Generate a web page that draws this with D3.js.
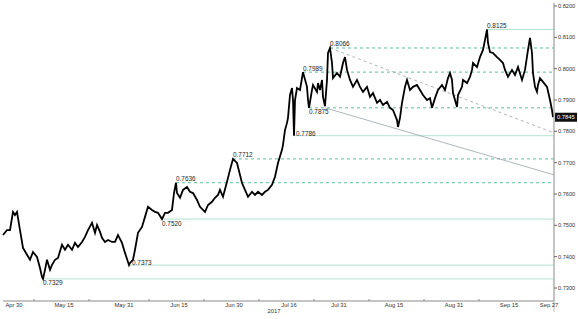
<!DOCTYPE html>
<html>
<head>
<meta charset="utf-8">
<script src="https://cdn.jsdelivr.net/npm/d3@7"></script>
<style>
  html, body { margin: 0; padding: 0; background: #fff; }
  svg { display: block; font-family: "Liberation Sans", Arial, sans-serif; }
</style>
</head>
<body>
<div id="chart"></div>
<script>
// ─── DATA ────────────────────────────────────────────────────────────────────
// x = trading-day index counted from 1 May 2017 (weekends skipped)
const days = [
  -2.2, -1.4, -0.8, -0.2, 0.2, 0.6, 1.2, 1.8, 2.6, 3.2, 3.8, 4.6, 5.2, 5.6, 5.8,
  6.2, 6.6, 7.2, 7.6, 8.2, 8.8, 9.6, 10.2, 10.8, 11.6, 12.2, 12.8, 13.6, 14.2,
  14.8, 15.6, 16.2, 16.6, 17.2, 17.6, 18.2, 18.8, 19.6, 20.2, 20.8, 21.6, 22.2,
  22.8, 23.0, 23.2, 23.8, 24.2, 24.8, 25.6, 26.2, 26.8, 27.6, 28.2, 28.8, 29.6,
  30.2, 30.8, 31.6, 32.0, 32.4, 32.6, 33.2, 33.8, 34.6, 35.2, 35.8, 36.6, 37.2,
  37.8, 38.2, 38.8, 39.6, 40.2, 40.8, 41.2, 41.8, 42.6, 43.2, 43.8, 44.6, 44.8,
  45.6, 46.2, 46.8, 47.6, 48.2, 48.8, 49.6, 50.2, 50.8, 51.6, 52.2, 52.8, 53.6,
  53.8, 54.2, 54.6, 54.8, 55.2, 55.6, 55.8, 56.0, 56.2, 56.6, 57.2, 57.8, 58.6,
  58.8, 59.0, 59.6, 59.8, 60.6, 60.8, 61.2, 61.6, 61.8, 62.2, 62.6, 62.8, 63.2,
  63.6, 63.8, 64.6, 65.2, 65.8, 66.2, 66.6, 67.2, 67.8, 68.6, 69.2, 69.8, 70.6,
  71.2, 71.8, 72.6, 73.2, 73.8, 74.6, 75.2, 75.8, 76.6, 76.8, 77.2, 77.6, 78.2,
  78.6, 79.2, 79.8, 80.6, 81.2, 81.8, 82.6, 83.2, 83.6, 84.2, 84.8, 85.6, 86.2,
  86.8, 87.2, 87.6, 87.8, 88.2, 88.6, 88.8, 89.6, 89.8, 90.6, 91.2, 91.6, 91.8,
  92.6, 93.2, 93.8, 94.2, 94.6, 94.8, 95.2, 95.8, 96.6, 97.2, 97.8, 98.2, 98.8,
  99.6, 100.2, 100.8, 101.6, 102.2, 102.8, 103.2, 103.6, 103.8, 104.2, 104.6,
  104.8, 105.2, 105.8, 106.6, 107.2, 107.6, 107.8
];
const prices = [
  0.7469, 0.7485, 0.7485, 0.7543, 0.7533, 0.7543, 0.7485, 0.7428, 0.7406, 0.7390,
  0.7415, 0.7399, 0.7364, 0.7335, 0.7329, 0.7358, 0.7390, 0.7358, 0.7374, 0.7390,
  0.7396, 0.7438, 0.7422, 0.7438, 0.7422, 0.7444, 0.7431, 0.7447, 0.7463, 0.7485,
  0.7508, 0.7476, 0.7501, 0.7479, 0.7460, 0.7447, 0.7453, 0.7447, 0.7447, 0.7469,
  0.7444, 0.7412, 0.7383, 0.7373, 0.7380, 0.7390, 0.7422, 0.7476, 0.7495, 0.7527,
  0.7559, 0.7549, 0.7543, 0.7540, 0.7520, 0.7540, 0.7540, 0.7549, 0.7603, 0.7636,
  0.7603, 0.7588, 0.7613, 0.7622, 0.7607, 0.7603, 0.7581, 0.7559, 0.7549, 0.7543,
  0.7565, 0.7575, 0.7588, 0.7597, 0.7613, 0.7591, 0.7639, 0.7677, 0.7712, 0.7699,
  0.7686, 0.7635, 0.7613, 0.7591, 0.7607, 0.7597, 0.7607, 0.7597, 0.7607, 0.7613,
  0.7629, 0.7655, 0.7699, 0.7741, 0.7757, 0.7804, 0.7827, 0.7843, 0.7916, 0.7938,
  0.7900, 0.7786, 0.7900, 0.7938, 0.7932, 0.7989, 0.7942, 0.7900, 0.7875, 0.7932,
  0.7948, 0.7926, 0.7954, 0.7932, 0.7964, 0.7910, 0.7880, 0.7964, 0.8050, 0.8066,
  0.8018, 0.7970, 0.7986, 0.7974, 0.8018, 0.8037, 0.7996, 0.7964, 0.7942, 0.7964,
  0.7942, 0.7926, 0.7942, 0.7910, 0.7922, 0.7891, 0.7900, 0.7884, 0.7894, 0.7875,
  0.7868, 0.7836, 0.7814, 0.7843, 0.7891, 0.7942, 0.7964, 0.7932, 0.7942, 0.7948,
  0.7932, 0.7916, 0.7900, 0.7906, 0.7875, 0.7906, 0.7932, 0.7948, 0.7932, 0.7970,
  0.7986, 0.7964, 0.7922, 0.7900, 0.7878, 0.7916, 0.7942, 0.7964, 0.7954, 0.7974,
  0.7996, 0.8018, 0.8005, 0.8037, 0.8060, 0.8092, 0.8125, 0.8082, 0.8053, 0.8050,
  0.8037, 0.8028, 0.8018, 0.7996, 0.7974, 0.7996, 0.7980, 0.8005, 0.7964, 0.7996,
  0.8060, 0.8098, 0.8050, 0.7986, 0.7942, 0.7926, 0.7948, 0.7970, 0.7958, 0.7942,
  0.7900, 0.7868, 0.7845
];

// marked highs / lows: level, day where it was set, line style, label side
const levelValues = [0.8125, 0.8066, 0.7989, 0.7875, 0.7786, 0.7712, 0.7636, 0.7520, 0.7373, 0.7329];
const levelDays   = [94.6,   63.2,   57.8,   59.0,   56.0,   43.8,   32.4,   29.6,   23.0,   5.8];
const levelStyles = ["solid", "dashed", "dashed", "dashed", "solid", "dashed", "dashed", "solid", "solid", "solid"];
const levelLabelAt = ["above", "above", "above", "below", "aboveRight", "above", "above", "below", "onRight", "below"];

// trend lines [startDay, startValue, endDay, endValue]
const trendDashed = [63.2, 0.8066, 108, 0.7795];
const trendSolid  = [62.2, 0.7875, 108, 0.7661];

const lastValue = 0.7845;

const yTicks = [0.73, 0.74, 0.75, 0.76, 0.77, 0.78, 0.79, 0.80, 0.81, 0.82];
const xTickLabels = ["Apr 30", "May 15", "May 31", "Jun 15", "Jun 30", "Jul 16", "Jul 31", "Aug 15", "Aug 31", "Sep 15", "Sep 27"];
const xTickDates  = ["2017-04-30", "2017-05-15", "2017-05-31", "2017-06-15", "2017-06-30", "2017-07-16",
                     "2017-07-31", "2017-08-15", "2017-08-31", "2017-09-15", "2017-09-27"];
const xMinorDates = ["2017-05-05", "2017-05-22", "2017-06-07", "2017-06-22", "2017-07-07",
                     "2017-07-24", "2017-08-08", "2017-08-23", "2017-09-07"];
const yearLabel = "2017";
const yearLabelDate = "2017-07-12";

// ─── HELPERS ─────────────────────────────────────────────────────────────────
const ORIGIN = new Date(2017, 4, 1);
function tradingIndex(str) {
  const [yy, m, d] = str.split("-").map(Number);
  const date = new Date(yy, m - 1, d);
  let n = 0;
  const step = date >= ORIGIN ? 1 : -1;
  const cur = new Date(date >= ORIGIN ? ORIGIN : date);
  const end = date >= ORIGIN ? date : ORIGIN;
  while (cur < end) {
    const wd = cur.getDay();
    if (wd !== 0 && wd !== 6) n += 1;
    cur.setDate(cur.getDate() + 1);
  }
  return step * n;
}

// ─── CHART ───────────────────────────────────────────────────────────────────
const W = 578, H = 319;
const svg = d3.select("#chart").append("svg").attr("width", W).attr("height", H);

const x = d3.scaleLinear().domain([-2.2, 108]).range([3, 554]);
const y = d3.scaleLinear().domain([0.73, 0.82]).range([288, 6]);
const axisX = x.range()[1];
const axisY = 301;

const SOLID_LEVEL = "#b4e3d3";
const DASH_LEVEL = "#5cc09e";
const TREND = "#9aa3a8";
const fmt = d3.format(".4f");

// level lines
const gLevels = svg.append("g");
levelValues.forEach((v, i) => {
  gLevels.append("line")
    .attr("x1", x(levelDays[i])).attr("x2", axisX)
    .attr("y1", y(v)).attr("y2", y(v))
    .attr("stroke", levelStyles[i] === "solid" ? SOLID_LEVEL : DASH_LEVEL)
    .attr("stroke-width", 1)
    .attr("stroke-dasharray", levelStyles[i] === "solid" ? null : "3,3");
});

// trend lines
svg.append("line")
  .attr("x1", x(trendDashed[0])).attr("y1", y(trendDashed[1]))
  .attr("x2", x(trendDashed[2])).attr("y2", y(trendDashed[3]))
  .attr("stroke", TREND).attr("stroke-width", 0.8).attr("stroke-dasharray", "3,3");
svg.append("line")
  .attr("x1", x(trendSolid[0])).attr("y1", y(trendSolid[1]))
  .attr("x2", x(trendSolid[2])).attr("y2", y(trendSolid[3]))
  .attr("stroke", TREND).attr("stroke-width", 0.8);

// price line
const series = days.map((d, i) => [d, prices[i]]);
svg.append("path")
  .datum(series)
  .attr("fill", "none")
  .attr("stroke", "#000")
  .attr("stroke-width", 1.8)
  .attr("stroke-linejoin", "miter")
  .attr("d", d3.line().x(d => x(d[0])).y(d => y(d[1])));

// level labels
const gLabels = svg.append("g").style("font-size", "6.4px").attr("fill", "#222");
levelValues.forEach((v, i) => {
  const px = x(levelDays[i]), py = y(v);
  const t = gLabels.append("text").text(fmt(v));
  switch (levelLabelAt[i]) {
    case "above":      t.attr("x", px).attr("y", py - 1.5); break;
    case "below":      t.attr("x", px).attr("y", py + 6.5); break;
    case "aboveRight": t.attr("x", px + 2).attr("y", py + 0.5); break;
    case "onRight":    t.attr("x", px + 3).attr("y", py - 0.5); break;
  }
});

// right axis
const gy = svg.append("g").attr("transform", `translate(${axisX},0)`);
gy.append("line").attr("y1", 3).attr("y2", axisY).attr("stroke", "#8a8a8a");
yTicks.forEach(v => {
  gy.append("line").attr("x1", 0).attr("x2", 3).attr("y1", y(v)).attr("y2", y(v)).attr("stroke", "#666");
  gy.append("text").attr("x", 4).attr("y", y(v) + 2)
    .style("font-size", "5.6px").attr("fill", "#333").text(fmt(v));
});
// current value tag
const tagY = y(lastValue);
gy.append("rect").attr("x", 1).attr("y", tagY - 4.5).attr("width", 22).attr("height", 9).attr("fill", "#111");
gy.append("text").attr("x", 3).attr("y", tagY + 2)
  .style("font-size", "5.8px").attr("fill", "#fff").text(fmt(lastValue));

// bottom axis
const gx = svg.append("g");
gx.append("line").attr("x1", 3).attr("x2", axisX).attr("y1", axisY).attr("y2", axisY).attr("stroke", "#8a8a8a");
gx.append("line").attr("x1", axisX).attr("x2", axisX).attr("y1", axisY).attr("y2", 312).attr("stroke", "#bbb");
xMinorDates.forEach(ds => {
  const px = x(tradingIndex(ds));
  gx.append("line").attr("x1", px).attr("x2", px).attr("y1", axisY).attr("y2", axisY - 2).attr("stroke", "#888");
});
xTickLabels.forEach((lab, i) => {
  gx.append("text")
    .attr("x", x(tradingIndex(xTickDates[i]))).attr("y", 307)
    .attr("text-anchor", "middle")
    .style("font-size", "5.8px").attr("fill", "#333").text(lab);
});
gx.append("text")
  .attr("x", x(tradingIndex(yearLabelDate))).attr("y", 313)
  .attr("text-anchor", "middle")
  .style("font-size", "5.8px").attr("fill", "#333").text(yearLabel);
</script>
</body>
</html>
